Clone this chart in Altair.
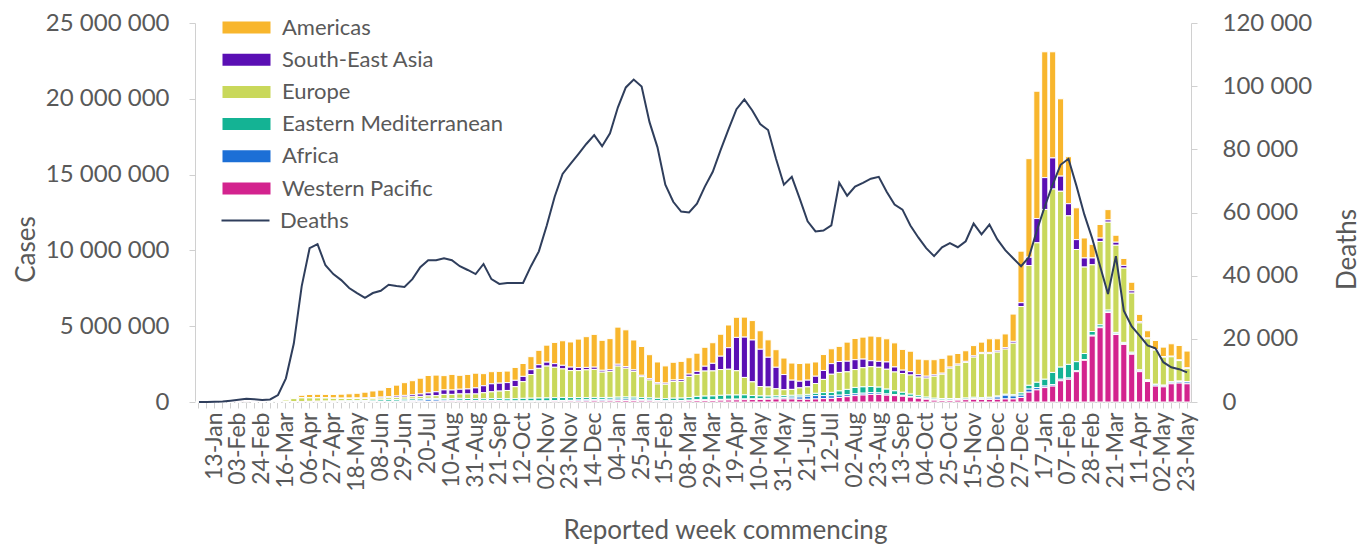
import altair as alt
import pandas as pd

# ---------------- data ----------------
weeks = pd.date_range("2019-12-30", "2022-05-23", freq="7D").strftime("%Y-%m-%d").tolist()

regions = ["Americas", "South-East Asia", "Europe", "Eastern Mediterranean", "Africa", "Western Pacific"]
region_colors = ["#F8B62D", "#5A0FB4", "#C9D85B", "#14B394", "#1C6FD6", "#D3238E"]
stack_rank = [5, 4, 3, 2, 1, 0]  # Western Pacific at the bottom, Americas on top

# weekly cases, thousands
americas_k = [0, 0, 0, 0, 0, 0, 0, 0, 0, 0.5, 2, 15, 70,
              170, 220, 230, 230, 240, 260, 280, 310, 370, 430, 460, 600, 720, 840, 930, 1040, 1150, 1100,
              940, 1030, 920, 960, 970, 800, 800, 780, 760, 850,
              850, 860, 950, 1120, 1400, 1620, 1660, 1880, 2030, 2160,
              1980, 2050, 2450, 2420, 1970, 1900, 1580, 1360, 1130, 1170,
              1200, 1080, 1200, 1250, 1360, 1450, 1500, 1330, 1320, 1280,
              1220, 1150, 1160, 1090, 1130, 1170, 1130, 940, 1050, 980,
              1000, 1260, 1400, 1450, 1630, 1630, 1530, 1590, 1370, 1350,
              1030, 1090, 1000, 980, 800, 700, 700, 680, 680, 900,
              800, 900, 1800, 3400, 6500, 8400, 8300, 7000, 5100, 3100,
              2100, 1320, 900, 900, 680, 460, 460, 570, 480, 480,
              600, 620, 820, 950, 1100]
sea_k = [0, 0, 0, 0, 0, 0, 0, 0, 0, 0.1, 0.1, 0.3, 1,
         2, 5, 8, 12, 15, 22, 30, 38, 45, 55, 65, 75, 90, 110, 130, 160, 200, 260,
         300, 290, 310, 330, 400, 460, 530, 520, 520, 420,
         350, 320, 240, 260, 240, 240, 230, 200, 160, 150,
         120, 110, 120, 110, 100, 90, 90, 90, 80, 100,
         120, 150, 200, 320, 500, 880, 1420, 2200, 2660, 2760,
         2460, 1960, 1420, 1000, 610, 440, 440, 480, 590, 700,
         720, 700, 650, 570, 390, 390, 480, 330, 220, 220,
         150, 120, 90, 70, 70, 70, 70, 80, 80, 80,
         80, 100, 120, 250, 550, 1600, 2100, 2050, 1000, 800,
         650, 600, 450, 220, 150, 200, 180, 150, 80, 50,
         40, 40, 40, 50, 60]
europe_k = [0, 0, 0, 0, 0.01, 0.02, 0.01, 0.01, 1, 10, 40, 110, 200,
            240, 230, 220, 200, 180, 160, 145, 140, 130, 125, 125, 130, 135, 140, 145, 150, 160, 180,
            280, 280, 290, 300, 310, 400, 450, 500, 550, 790,
            1100, 1560, 1960, 2100, 2000, 1880, 1780, 1780, 1830, 1850,
            1680, 1720, 2050, 1900, 1700, 1380, 1180, 950, 950, 1100,
            1100, 1400, 1450, 1650, 1650, 1700, 1700, 1600, 1150, 900,
            620, 600, 470, 390, 390, 480, 500, 650, 870, 1200,
            1220, 1160, 1180, 1260, 1310, 1310, 1310, 1240, 1240, 1260,
            1240, 1260, 1450, 1600, 2000, 2200, 2350, 2650, 2900, 2880,
            2900, 2980, 3400, 5700, 7900, 9200, 11200, 12100, 11600, 9800,
            7400, 5700, 4400, 5500, 5800, 5750, 4900, 3900, 3100, 2700,
            2250, 1850, 1650, 1350, 850]
emr_k = [0, 0, 0, 0, 0, 0, 0, 0, 0.1, 4, 8, 10, 15,
         20, 30, 35, 45, 50, 60, 70, 70, 80, 90, 100, 110, 115, 115, 110, 105, 100, 90,
         100, 110, 130, 130, 130, 120, 130, 130, 140, 150,
         170, 180, 190, 200, 200, 200, 180, 160, 140, 130,
         120, 120, 130, 130, 130, 130, 140, 140, 140, 160,
         160, 170, 220, 240, 250, 270, 280, 270, 270, 220,
         180, 150, 130, 120, 120, 120, 120, 150, 200, 220,
         280, 350, 420, 420, 400, 380, 320, 250, 200, 150,
         120, 100, 100, 100, 100, 80, 80, 80, 70, 60,
         60, 60, 80, 150, 250, 350, 450, 800, 800, 900,
         600, 400, 250, 150, 120, 100, 80, 70, 60, 50,
         40, 30, 30, 30, 30]
africa_k = [0, 0, 0, 0, 0, 0, 0, 0, 0, 0, 0.1, 0.3, 1,
            2, 3, 5, 6, 7, 9, 11, 14, 17, 22, 27, 35, 45, 60, 75, 95, 110, 100,
            70, 60, 60, 50, 40, 40, 40, 40, 30, 30,
            30, 30, 30, 30, 40, 50, 50, 70, 80, 90,
            100, 100, 100, 100, 100, 80, 60, 50, 40, 40,
            40, 40, 50, 50, 50, 50, 50, 50, 50, 50,
            50, 60, 70, 100, 120, 150, 200, 220, 200, 170,
            150, 130, 120, 120, 120, 100, 80, 70, 60, 50,
            40, 40, 30, 30, 30, 30, 30, 50, 50, 80,
            150, 250, 200, 150, 200, 150, 100, 100, 100, 80,
            60, 50, 50, 40, 40, 40, 50, 60, 60, 70,
            80, 80, 100, 100, 120]
wpr_k = [0, 0, 0.1, 2, 12, 22, 40, 6, 5, 6, 4, 5, 8,
         9, 9, 10, 8, 5, 4, 4, 3, 5, 5, 5, 6, 8, 10, 15, 20, 30, 45,
         50, 50, 50, 50, 50, 50, 50, 50, 40, 40,
         40, 40, 40, 40, 50, 50, 60, 60, 70, 80,
         70, 80, 90, 100, 90, 80, 70, 50, 40, 50,
         60, 80, 100, 100, 100, 120, 130, 140, 150, 160,
         170, 180, 200, 200, 200, 180, 180, 200, 220, 240,
         300, 350, 420, 460, 500, 500, 450, 420, 380, 320,
         250, 180, 120, 100, 100, 120, 150, 180, 170, 170,
         180, 200, 200, 300, 650, 800, 950, 1050, 1400, 1500,
         2000, 2750, 4350, 4900, 5900, 4450, 3800, 3150, 2000, 1350,
         1050, 1000, 1200, 1250, 1200]

deaths = [0, 0, 100, 150, 400, 700, 1000, 900, 600, 800, 2200, 7500, 18500,
          36700, 48700, 50000, 43300, 40500, 38600, 36100, 34500, 33000, 34500, 35200, 37100, 36700, 36400,
          38900, 42700, 44900, 44900,
          45500, 44900, 43000, 41800, 40500, 43700, 38900, 37400, 37700, 37700,
          37700, 43000, 47700, 55900, 65000, 72200, 75400, 78500, 81700, 84500,
          81000, 85100, 93300, 99600, 102100, 99900, 88600, 80700, 68800, 63400,
          60300, 60000, 62800, 68200, 72900, 79800, 86400, 92700, 95800, 92300,
          88000, 86100, 77000, 68800, 71300, 64400, 57200, 54000, 54300, 55900,
          69400, 65300, 68200, 69400, 70700, 71300, 66600, 62500, 60900, 55900,
          52100, 48700, 46200, 49000, 50300, 49000, 50900, 56500, 53100, 56200,
          51500, 48100, 45500, 43000, 45900, 54300, 61900, 68800, 75100, 77000,
          68500, 59400, 51800, 43000, 34200, 46200, 28900, 23900, 21000, 17900,
          17000, 12600, 11000, 10400, 9400]

series_k = [americas_k, sea_k, europe_k, emr_k, africa_k, wpr_k]
for s in series_k + [deaths]:
    assert len(s) == len(weeks), len(s)

rows = []
for region, rank, vals in zip(regions, stack_rank, series_k):
    for w, v in zip(weeks, vals):
        rows.append({"week": w, "region": region, "cases": v * 1000, "rank": rank})
bars_df = pd.DataFrame(rows)
deaths_df = pd.DataFrame({"week": weeks, "deaths": deaths, "series": "Deaths"})

# ---------------- style ----------------
FONT = "Lato"
GRAY = "#595959"
AXIS_GRAY = "#D0D0D0"
W, H = 996, 379
space_fmt = "replace(format(datum.value, ','), /,/g, ' ')"

x_enc = alt.X(
    "week:O",
    scale=alt.Scale(paddingInner=0.22, paddingOuter=0.11),
    axis=alt.Axis(
        title="Reported week commencing",
        labelExpr="(toDate(datum.value) - toDate('2020-01-13')) % 1814400000 == 0 ? utcFormat(toDate(datum.value), '%d-%b') : ''",
        labelAngle=270, labelFontSize=23, labelFont=FONT, labelColor=GRAY,
        labelOverlap=False, labelPadding=4, tickSize=6, tickColor=AXIS_GRAY,
        domainColor=AXIS_GRAY, titleFont=FONT, titleFontSize=26, titleColor=GRAY,
        titleFontWeight="normal", titleX=530, titleY=128, titleAlign="center",
        titleBaseline="middle",
    ),
)

bars = alt.Chart(bars_df).mark_bar(stroke="white", strokeWidth=1).encode(
    x=x_enc,
    y=alt.Y(
        "cases:Q", stack="zero",
        scale=alt.Scale(domain=[0, 25_000_000]),
        axis=alt.Axis(
            values=[0, 5_000_000, 10_000_000, 15_000_000, 20_000_000, 25_000_000],
            labelExpr=space_fmt, labelFontSize=24, labelFont=FONT, labelColor=GRAY,
            labelPadding=20, tickSize=6, tickColor=AXIS_GRAY, domainColor=AXIS_GRAY,
            grid=False, title="Cases", titleFont=FONT, titleFontSize=26, titleColor=GRAY,
            titleFontWeight="normal", titleAngle=270, titleX=-169, titleY=226,
            titleAlign="center", titleBaseline="middle",
        ),
    ),
    color=alt.Color(
        "region:N",
        scale=alt.Scale(domain=regions, range=region_colors),
        legend=alt.Legend(
            title=None, orient="none", legendX=40.5, legendY=-6.5, direction="vertical",
            symbolType="M-4,-1H4V1H-4Z", symbolSize=144, symbolStrokeWidth=0,
            symbolOpacity=1, labelFontSize=22, labelFont=FONT, labelColor=GRAY,
            labelOffset=24.5, labelLimit=0, rowPadding=10.2, padding=0,
        ),
    ),
    order=alt.Order("rank:Q", sort="ascending"),
)

line = alt.Chart(deaths_df).mark_line(strokeWidth=2).encode(
    x=x_enc,
    y=alt.Y(
        "deaths:Q",
        scale=alt.Scale(domain=[0, 120_000]),
        axis=alt.Axis(
            orient="right",
            values=[0, 20_000, 40_000, 60_000, 80_000, 100_000, 120_000],
            labelExpr=space_fmt, labelFontSize=24, labelFont=FONT, labelColor=GRAY,
            labelPadding=25, tickSize=6, tickColor=AXIS_GRAY, domainColor=AXIS_GRAY,
            grid=False, title="Deaths", titleFont=FONT, titleFontSize=26, titleColor=GRAY,
            titleFontWeight="normal", titleAngle=270, titleX=156, titleY=226,
            titleAlign="center", titleBaseline="middle",
        ),
    ),
    stroke=alt.Stroke(
        "series:N",
        scale=alt.Scale(domain=["Deaths"], range=["#2F3E5C"]),
        legend=alt.Legend(
            title=None, orient="none", legendX=39.5, legendY=186.5, direction="vertical",
            symbolType="M-4,0H4", symbolSize=144, symbolStrokeWidth=2,
            labelFontSize=22, labelFont=FONT, labelColor=GRAY, labelOffset=23.5,
            labelLimit=0, padding=0,
        ),
    ),
)

chart = (
    alt.layer(bars, line)
    .resolve_scale(y="independent", color="independent")
    .properties(
        width=W, height=H,
        autosize=alt.AutoSizeParams(type="none"),
        padding={"left": 187, "top": 15, "right": 171, "bottom": 143},
    )
    .configure_view(stroke=None)
)

chart.save("out.html", embed_options={"renderer": "svg", "actions": False})
